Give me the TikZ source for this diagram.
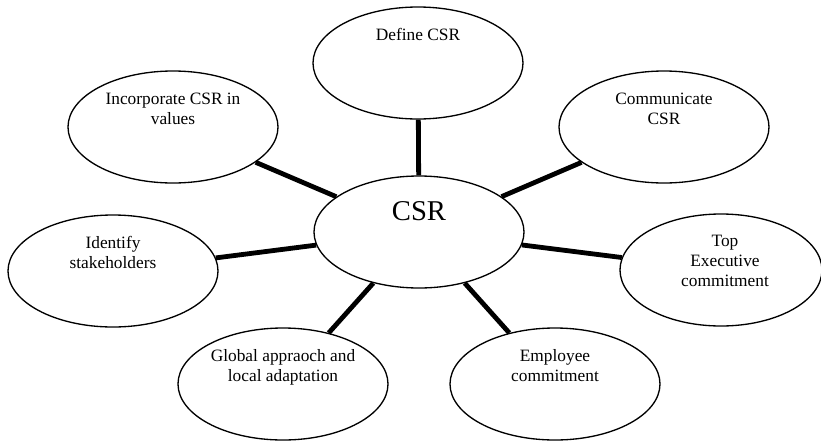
\documentclass[tikz,border=0pt]{standalone}
\usepackage{fontspec}
\setmainfont{Liberation Serif}
\usepackage{tikz}
\usetikzlibrary{shapes.geometric,positioning}

\begin{document}
\begin{tikzpicture}[x=0.75pt, y=-0.75pt,
    bubble/.style={ellipse, draw=black, line width=1pt, minimum width=157.5pt, minimum height=84pt, inner sep=0pt},
    txt/.style={align=center, inner sep=0pt, font=\fontsize{13}{15}\selectfont},
    spoke/.style={line width=3.6pt}]
    \useasboundingbox (0,0) rectangle (821,440);

    \node[bubble] (CSR) at (419,232) {};
    \node[bubble] (DEF) at (418,63) {};
    \node[bubble] (INC) at (173,127) {};
    \node[bubble] (COM) at (664,127) {};
    \node[bubble] (IDS) at (113,271) {};
    \node[bubble, minimum width=151.5pt] (TOP) at (721,270) {};
    \node[bubble] (GLO) at (283,384) {};
    \node[bubble] (EMP) at (555,384) {};

    \node[txt, font=\fontsize{21.5}{24}\selectfont, below=19.5pt of CSR.north] (CSRt) {CSR};
    \node[txt, below=16.5pt of DEF.north] (DEFt) {Define CSR};
    \node[txt, below=16.5pt of INC.north] (INCt) {Incorporate CSR in\\values};
    \node[txt, below=16.5pt of COM.north] (COMt) {Communicate\\CSR};
    \node[txt, below=16.5pt of IDS.north] (IDSt) {Identify\\stakeholders};
    \node[txt, below=16.5pt of TOP.north, xshift=3pt] (TOPt) {Top\\Executive\\commitment};
    \node[txt, below=16.5pt of GLO.north] (GLOt) {Global appraoch and\\local adaptation};
    \node[txt, below=16.5pt of EMP.north] (EMPt) {Employee\\commitment};

    \draw[spoke] (CSR) -- (DEF);
    \draw[spoke] (CSR) -- (INC);
    \draw[spoke] (CSR) -- (COM);
    \draw[spoke] (CSR) -- (IDS);
    \draw[spoke] (CSR) -- (TOP);
    \draw[spoke] (CSR) -- (GLO);
    \draw[spoke] (CSR) -- (EMP);
\end{tikzpicture}
\end{document}
